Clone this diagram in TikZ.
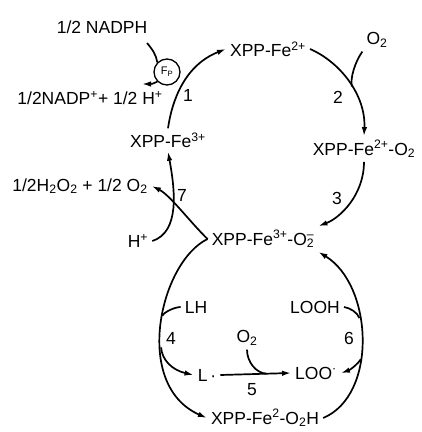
\documentclass[tikz,border=0pt]{standalone}
\usepackage{fontspec}
\setmainfont{Liberation Sans}
\usetikzlibrary{arrows.meta}
\newcommand{\subsup}[2]{\rlap{\textsubscript{#1}}\textsuperscript{#2}}
\tikzset{
  chem/.style={inner sep=4pt,font=\fontsize{17.5}{19}\selectfont},
  num/.style={inner sep=1pt,font=\fontsize{17.5}{19}\selectfont},
  enz/.style={draw,circle,line width=1.3pt,minimum size=26pt,inner sep=0pt,fill=white,font=\fontsize{11}{12}\selectfont},
  flow/.style={-{Latex[length=9pt,width=5.5pt]},line width=1.7pt},
  feed/.style={line width=1.7pt}}

\begin{document}
\begin{tikzpicture}[x=1pt,y=-1pt]
  \useasboundingbox (0,0) rectangle (422,432);
  % upper cycle
  \node[chem] (nadph) at (102,27) {1/2 NADPH};
  \node[enz] (fp) at (167,72) {F\textsubscript{P}};
  \node[chem] (nadp) at (90,98) {1/2NADP\textsuperscript{+}+ 1/2 H\textsuperscript{+}};
  \node[chem] (fe3) at (168,140) {XPP-Fe\textsuperscript{3+}};
  \node[chem] (fe2) at (268,49) {XPP-Fe\textsuperscript{2+}};
  \node[chem] (oxa) at (377,40) {O\textsubscript{2}};
  \node[chem] (feo2) at (364,149) {XPP-Fe\textsuperscript{2+}-O\textsubscript{2}};
  \node[chem] (super) at (263,239) {XPP-Fe\textsuperscript{3+}-O\subsup{2}{--}};
  \node[chem] (h2o2) at (80,186) {1/2H\textsubscript{2}O\textsubscript{2} + 1/2 O\textsubscript{2}};
  \node[chem] (hplus) at (138,241) {H\textsuperscript{+}};
  % lower cycle
  \node[chem] (lh) at (196,307) {LH};
  \node[chem] (looh) at (315,307) {LOOH};
  \node[chem] (oxb) at (247,338) {O\textsubscript{2}};
  \node[chem] (lrad) at (207,375) {L\,·};
  \node[chem] (loo) at (316,373) {LOO\textsuperscript{·}};
  \node[chem] (hydro) at (265,418) {XPP-Fe\textsuperscript{2}-O\textsubscript{2}H};
  % step numbers
  \node[num] (s1) at (188,95) {1};
  \node[num] (s2) at (338,97) {2};
  \node[num] (s3) at (337,198) {3};
  \node[num] (s4) at (171,338) {4};
  \node[num] (s5) at (252,390) {5};
  \node[num] (s6) at (349,338) {6};
  \node[num] (s7) at (182,195) {7};
  \coordinate (nin) at (147,43);
  \coordinate (nout) at (142,84);

  \draw[flow] (fe3.north) .. controls (172,100) and (185,65) .. (fe2.west);
  \draw[feed] (nin) .. controls (153,50) and (156,55) .. (fp.135);
  \draw[flow] (fp.225) .. controls (152,84) .. (nout);
  \draw[flow] (fe2.east) .. controls (340,62) and (366,95) .. coordinate[pos=0.55] (j2) (feo2.north);
  \draw[feed] (oxa.south west) .. controls (355,62) and (350,78) .. (j2);
  \draw[flow] (feo2.south) .. controls (364,195) and (340,218) .. (super.north east);
  \draw[flow] (super.west) .. controls (190,222) and (170,195) .. (h2o2.east);
  \draw[flow] (hplus.east) .. controls (180,232) and (175,190) .. (fe3.south);

  \draw[flow] (super.west) .. controls (160,262) and (132,385) .. coordinate[pos=0.46] (j4a) coordinate[pos=0.6] (j4b) (hydro.west);
  \draw[flow] (hydro.east) .. controls (378,395) and (373,285) .. coordinate[pos=0.4] (j6b) coordinate[pos=0.6] (j6a) (super.south east);
  \draw[feed] (lh.west) .. controls (175,307) and (164,312) .. (j4a);
  \draw[flow] (j4b) .. controls (162,360) and (172,370) .. (lrad.west);
  \draw[feed] (looh.east) .. controls (350,308) and (357,312) .. (j6a);
  \draw[flow] (j6b) .. controls (358,364) and (350,370) .. (loo.east);
  \draw[flow] (lrad.east) -- coordinate[pos=0.65] (j5) (loo.west);
  \draw[feed] (oxb.south) .. controls (247,362) and (256,373) .. (j5);
\end{tikzpicture}
\end{document}
